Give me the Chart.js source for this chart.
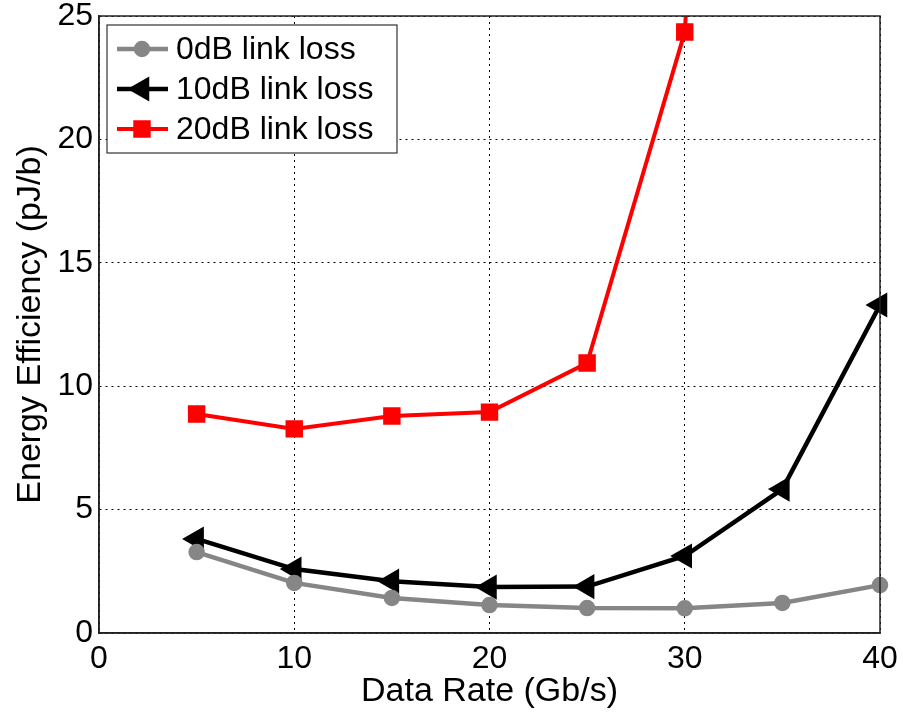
<!DOCTYPE html>
<html>
<head>
<meta charset="utf-8">
<script src="https://cdn.jsdelivr.net/npm/chart.js@4/dist/chart.umd.min.js"></script>
<style>
  html, body { margin: 0; padding: 0; background: #fff; }
  #wrap { width: 903px; height: 717px; position: relative; }
</style>
</head>
<body>
<div id="wrap"><canvas id="c"></canvas></div>
<script>
'use strict';

// Data (data rate in Gb/s, energy in pJ/b).
const rates = [5, 10, 15, 20, 25, 30, 35, 40];
const loss0dB = [3.28, 2.03, 1.42, 1.13, 1.01, 1.0, 1.22, 1.94];
const loss10dB = [3.81, 2.59, 2.1, 1.86, 1.88, 3.12, 5.83, 13.29];
const loss20dB = [8.87, 8.27, 8.79, 8.95, 10.94, 24.35, 87, null];
const seriesLabels = ['0dB link loss', '10dB link loss', '20dB link loss'];
const xTicks = [0, 10, 20, 30, 40];
const yTicks = [0, 5, 10, 15, 20, 25];

const FONT = "'Liberation Sans', Arial, sans-serif";

const toPts = (ys) => rates.map((x, i) => ({ x, y: ys[i] })).filter((p) => p.y !== null);

// Box round the plot plus a MATLAB-style legend inside the top-left corner.
const frameAndLegend = {
  id: 'frameAndLegend',
  afterDraw(chart) {
    const { ctx, chartArea: a } = chart;
    ctx.save();
    ctx.strokeStyle = '#222';
    ctx.lineWidth = 1.5;
    ctx.strokeRect(a.left, a.top, a.right - a.left, a.bottom - a.top);

    const bx = a.left + 8, by = a.top + 9, bw = 290, bh = 128;
    ctx.fillStyle = '#fff';
    ctx.fillRect(bx, by, bw, bh);
    ctx.strokeStyle = '#333';
    ctx.lineWidth = 1.2;
    ctx.strokeRect(bx, by, bw, bh);

    chart.data.datasets.forEach((ds, i) => {
      const cy = by + 24 + i * 40;
      ctx.strokeStyle = ds.borderColor;
      ctx.lineWidth = ds.borderWidth;
      ctx.beginPath();
      ctx.moveTo(bx + 10, cy);
      ctx.lineTo(bx + 61, cy);
      ctx.stroke();
      ctx.fillStyle = ds.pointBackgroundColor;
      ctx.strokeStyle = ds.pointBorderColor;
      Chart.helpers.drawPoint(ctx, {
        pointStyle: ds.pointStyle,
        rotation: ds.pointRotation || 0,
        radius: ds.pointRadius,
        borderWidth: 1,
      }, bx + 35, cy);
      ctx.fillStyle = '#000';
      ctx.font = '32px ' + FONT;
      ctx.textBaseline = 'middle';
      ctx.textAlign = 'left';
      ctx.fillText(ds.label, bx + 69, cy + 1);
    });
    ctx.restore();
  },
};

const sideClip = { left: 12, right: 12, bottom: 12, top: 12 };

new Chart(document.getElementById('c'), {
  type: 'line',
  data: {
    datasets: [
      {
        label: seriesLabels[0],
        data: toPts(loss0dB),
        borderColor: '#868686',
        borderWidth: 4.5,
        pointStyle: 'circle',
        pointRadius: 6,
        pointBackgroundColor: '#868686',
        pointBorderColor: '#868686',
        clip: sideClip,
      },
      {
        label: seriesLabels[1],
        data: toPts(loss10dB),
        borderColor: '#000',
        borderWidth: 4.5,
        pointStyle: 'triangle',
        pointRotation: 270,
        pointRadius: 10,
        pointBackgroundColor: '#000',
        pointBorderColor: '#000',
        clip: sideClip,
      },
      {
        label: seriesLabels[2],
        data: toPts(loss20dB),
        borderColor: '#ff0000',
        borderWidth: 4,
        pointStyle: 'rect',
        pointRadius: 9.5,
        pointBackgroundColor: '#ff0000',
        pointBorderColor: '#ff0000',
        clip: { left: 12, right: 12, bottom: 12, top: 0 },
      },
    ],
  },
  options: {
    responsive: true,
    maintainAspectRatio: false,
    animation: false,
    layout: { padding: { left: 8, right: 23, top: 16, bottom: 0 } },
    plugins: { legend: { display: false }, tooltip: { enabled: false } },
    elements: { line: { tension: 0 } },
    scales: {
      x: {
        type: 'linear',
        min: 0,
        max: 40,
        afterBuildTicks: (s) => { s.ticks = xTicks.map((v) => ({ value: v })); },
        afterFit: (s) => { s.height = 84; s.paddingLeft = 0; s.paddingRight = 0; },
        grid: { color: '#000', lineWidth: 1, drawTicks: false },
        border: { display: true, color: '#222', width: 1.5, dash: [2, 4] },
        ticks: { color: '#000', padding: 7, font: { family: FONT, size: 32 }, maxRotation: 0 },
        title: {
          display: true,
          text: 'Data Rate (Gb/s)',
          color: '#000',
          font: { family: FONT, size: 34 },
          padding: { top: 0, bottom: 5 },
        },
      },
      y: {
        type: 'linear',
        min: 0,
        max: 25,
        afterBuildTicks: (s) => { s.ticks = yTicks.map((v) => ({ value: v })); },
        afterFit: (s) => { s.width = 91; s.paddingTop = 0; s.paddingBottom = 0; },
        grid: { color: '#000', lineWidth: 1, drawTicks: false },
        border: { display: true, color: '#222', width: 1.5, dash: [2, 4] },
        ticks: { color: '#000', padding: 6, font: { family: FONT, size: 32 } },
        title: {
          display: true,
          text: 'Energy Efficiency (pJ/b)',
          color: '#000',
          font: { family: FONT, size: 34 },
          padding: { top: 2, bottom: 0 },
        },
      },
    },
  },
  plugins: [frameAndLegend],
});
</script>
</body>
</html>
